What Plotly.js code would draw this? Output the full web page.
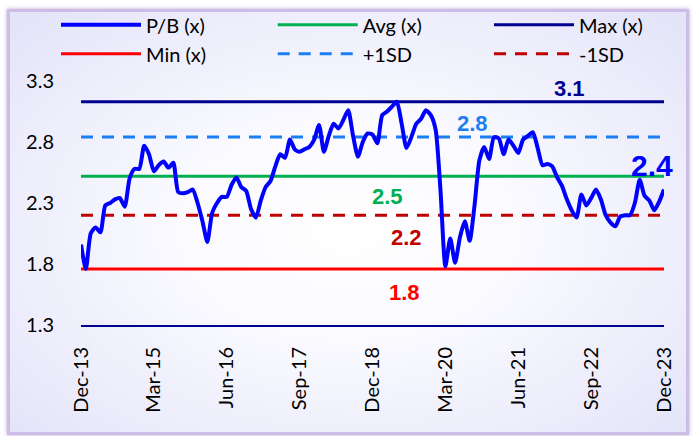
<!DOCTYPE html>
<html>
<head>
<meta charset="utf-8">
<script src="https://cdn.plot.ly/plotly-3.0.1.min.js"></script>
<style>
  html, body { margin: 0; padding: 0; background: #ffffff; }
  #frame {
    position: absolute; left: 7px; top: 9px; width: 676px; height: 420px;
    border: 3px solid #cdbde6;
    box-shadow: 0 0 4px #b9a6d9;
    background: radial-gradient(ellipse at 50% 52%, #ffffff 0%, #fafaff 35%, #e3e3f9 100%);
  }
  #chart { position: absolute; left: 0; top: 0; width: 694px; height: 436px; }
</style>
</head>
<body>
<div id="frame"></div>
<div id="chart"></div>
<script>
// Monthly P/B (x), Dec-13 .. Dec-23
const pb = [
  1.96, 1.76, 2.05, 2.10, 2.06, 2.28, 2.30, 2.33, 2.34, 2.27,
  2.50, 2.58, 2.58, 2.77, 2.70, 2.56, 2.61, 2.64, 2.59, 2.63,
  2.39, 2.38, 2.39, 2.41, 2.30, 2.15, 1.98, 2.22, 2.30, 2.35,
  2.35, 2.45, 2.51, 2.43, 2.40, 2.25, 2.18, 2.32, 2.43, 2.48,
  2.60, 2.70, 2.67, 2.82, 2.74, 2.72, 2.74, 2.76, 2.82, 2.94,
  2.72, 2.85, 2.95, 2.91, 2.98, 3.06, 2.85, 2.68, 2.80, 2.87,
  2.86, 2.79, 3.02, 3.05, 3.09, 3.13, 2.95, 2.75, 2.84, 2.95,
  2.99, 3.06, 3.02, 2.90, 2.40, 1.78, 2.01, 1.81, 2.02, 2.15,
  1.99, 2.28, 2.65, 2.76, 2.66, 2.84, 2.83, 2.70, 2.82, 2.77,
  2.71, 2.82, 2.85, 2.88, 2.75, 2.61, 2.62, 2.60, 2.51, 2.44,
  2.33, 2.24, 2.18, 2.37, 2.28, 2.34, 2.41, 2.33, 2.20, 2.14,
  2.11, 2.19, 2.20, 2.20, 2.30, 2.49, 2.36, 2.32, 2.24, 2.31,
  2.41
];
const avgVal = 2.52;
const maxVal = 3.13;
const minVal = 1.76;
const plus1SD = 2.84;
const minus1SD = 2.20;

const tickPositions = [0, 15, 30, 45, 60, 75, 90, 105, 120];
const tickLabels = ["Dec-13", "Mar-15", "Jun-16", "Sep-17", "Dec-18", "Mar-20", "Jun-21", "Sep-22", "Dec-23"];
const yTicks = [1.3, 1.8, 2.3, 2.8, 3.3];

const xs = pb.map((_, i) => i);
const flat = v => pb.map(() => v);

const FONT = "Lato, 'Liberation Sans', Arial, sans-serif";
const DASH = "12px,9px";

const pbTrace = {x: xs, y: pb, name: "P/B (x)", legend: "legend", legendrank: 1, mode: "lines", line: {color: "#0000ff", width: 4, shape: "spline", smoothing: 0.6}};
const refTraces = [
  {x: xs, y: flat(minVal), name: "Min (x)", legend: "legend", legendrank: 2, mode: "lines", line: {color: "#ff0000", width: 3}},
  {x: xs, y: flat(avgVal), name: "Avg (x)", legend: "legend2", legendrank: 1, mode: "lines", line: {color: "#00b050", width: 3}},
  {x: xs, y: flat(plus1SD), name: "+1SD", legend: "legend2", legendrank: 2, mode: "lines", line: {color: "#1a7ff5", width: 3, dash: DASH}},
  {x: xs, y: flat(maxVal), name: "Max (x)", legend: "legend3", legendrank: 1, mode: "lines", line: {color: "#000090", width: 3}},
  {x: xs, y: flat(minus1SD), name: "-1SD", legend: "legend3", legendrank: 2, mode: "lines", line: {color: "#c00000", width: 3, dash: DASH}}
];
// P/B drawn last so it sits on top of the reference lines
const traces = refTraces.concat([pbTrace]);

const lbl = (x, y, text, color, size) => ({
  x: x, y: y, xref: "x", yref: "y", text: "<b>" + text + "</b>", showarrow: false,
  font: {family: "'Liberation Sans', Arial, sans-serif", size: size, color: color, weight: 700}
});

const annotations = [
  lbl(100.5, maxVal + 0.11, maxVal.toFixed(1), "#000090", 22),
  lbl(80.5, plus1SD + 0.11, plus1SD.toFixed(1), "#1a7ff5", 22),
  lbl(63, avgVal - 0.17, avgVal.toFixed(1), "#00b050", 22),
  lbl(67, minus1SD - 0.18, minus1SD.toFixed(1), "#c00000", 22),
  lbl(66.5, minVal - 0.19, minVal.toFixed(1), "#ff0000", 22),
  lbl(117.5, pb[pb.length - 1] + 0.2, pb[pb.length - 1].toFixed(1), "#0000ff", 30)
];

const legendBase = x => ({
  orientation: "v", xref: "container", yref: "container",
  x: x, y: 0.988, xanchor: "left", yanchor: "top",
  itemwidth: 80, bgcolor: "rgba(0,0,0,0)",
  font: {family: FONT, size: 20, color: "#000"}, traceorder: "normal"
});

const layout = {
  width: 694, height: 436, autosize: false,
  margin: {l: 81, r: 30, t: 81, b: 111, pad: 0, autoexpand: false},
  paper_bgcolor: "rgba(0,0,0,0)",
  plot_bgcolor: "rgba(0,0,0,0)",
  font: {family: FONT, size: 20, color: "#000000"},
  showlegend: true,
  legend: legendBase(0.0807),
  legend2: legendBase(0.393),
  legend3: legendBase(0.7046),
  xaxis: {
    range: [0, 120], tickmode: "array", tickvals: tickPositions, ticktext: tickLabels,
    tickangle: -90, showgrid: false, zeroline: false,
    showline: true, linecolor: "#000090", linewidth: 2,
    ticks: "outside", ticklen: 12, tickcolor: "rgba(0,0,0,0)",
    tickfont: {family: FONT, size: 20, color: "#000"}, fixedrange: true
  },
  yaxis: {
    range: [1.3, 3.3], tickmode: "array", tickvals: yTicks,
    ticktext: yTicks.map(v => v.toFixed(1)),
    showgrid: false, zeroline: false, showline: false,
    ticks: "outside", ticklen: 22, tickcolor: "rgba(0,0,0,0)",
    tickfont: {family: FONT, size: 20, color: "#000"}, fixedrange: true
  },
  annotations: annotations
};

Plotly.newPlot("chart", traces, layout, {displayModeBar: false, staticPlot: true});
</script>
</body>
</html>
